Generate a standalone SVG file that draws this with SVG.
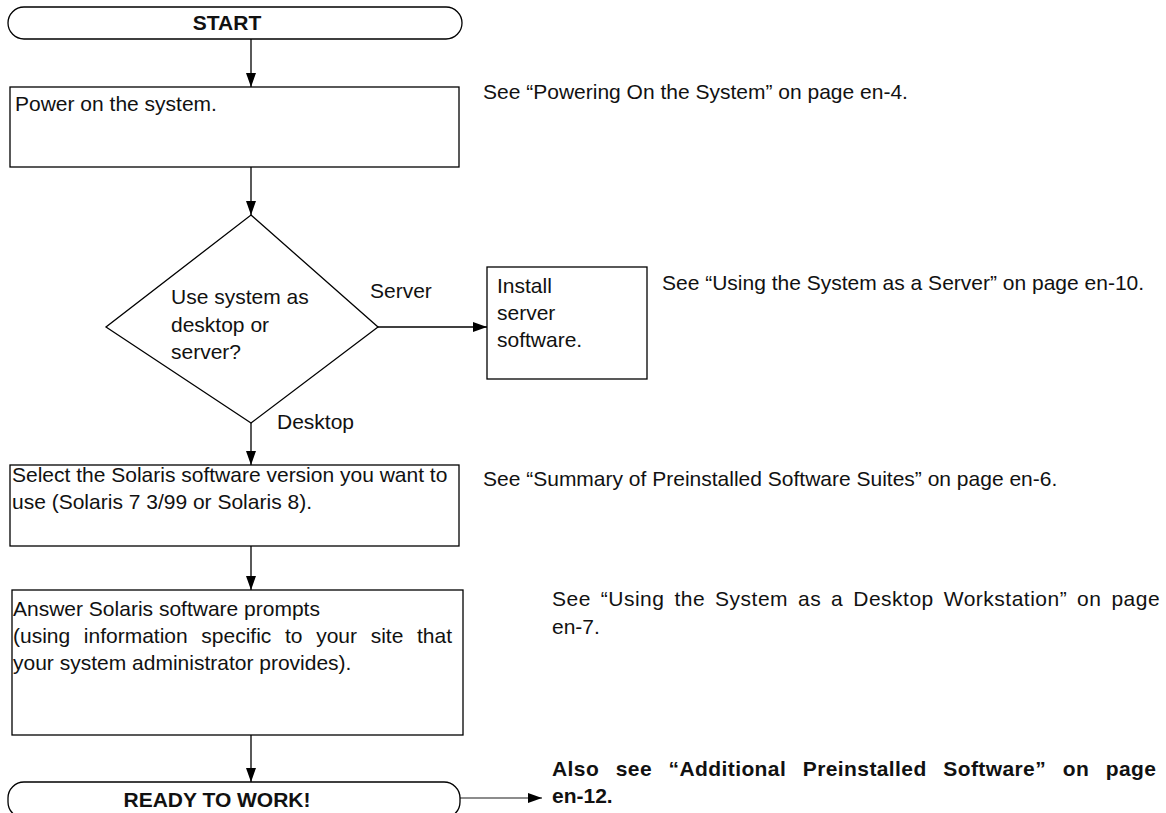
<svg xmlns="http://www.w3.org/2000/svg" width="1166" height="813" viewBox="0 0 1166 813">
<defs>
<marker id="ah" markerUnits="userSpaceOnUse" markerWidth="14" markerHeight="10" refX="14" refY="5" orient="auto">
<path d="M0,0 L14,5 L0,10 z" fill="#000"/>
</marker>
<style>
.shape{fill:#fff;stroke:#000;stroke-width:1.3}
.t{font-family:"Liberation Sans",Arial,sans-serif;font-size:21px;fill:#111}
.b{font-weight:bold}
.c{fill:none;stroke:#000;stroke-width:1.3}
.g{stroke:#666}
</style>
</defs>
<rect width="1166" height="813" fill="#fff"/>
<g id="connectors">
<line class="c" x1="251" y1="39" x2="251" y2="87" marker-end="url(#ah)"/>
<line class="c" x1="251" y1="167" x2="251" y2="215" marker-end="url(#ah)"/>
<line class="c" x1="378" y1="327" x2="487" y2="327" marker-end="url(#ah)"/>
<line class="c" x1="251" y1="423" x2="251" y2="465" marker-end="url(#ah)"/>
<line class="c" x1="251" y1="546" x2="251" y2="590" marker-end="url(#ah)"/>
<line class="c" x1="251" y1="735" x2="251" y2="782" marker-end="url(#ah)"/>
<line class="c g" x1="460" y1="798" x2="542" y2="798" marker-end="url(#ah)"/>
<text class="t" x="370" y="298">Server</text>
<text class="t" x="277" y="429">Desktop</text>
</g>
<g id="start">
<rect class="shape" x="8" y="7" width="454" height="32" rx="16"/>
<text class="t b" x="227" y="30" text-anchor="middle">START</text>
</g>
<g id="power">
<rect class="shape" x="10" y="87" width="449" height="80"/>
<text class="t" x="15" y="111">Power on the system.</text>
</g>
<g id="decision">
<polygon class="shape" points="251,215 378,327 251,423 106,327"/>
<text class="t" x="171" y="304">Use system as</text>
<text class="t" x="171" y="332">desktop or</text>
<text class="t" x="171" y="359">server?</text>
</g>
<g id="server">
<rect class="shape" x="487" y="267" width="160" height="112"/>
<text class="t" x="497" y="293">Install</text>
<text class="t" x="497" y="320">server</text>
<text class="t" x="497" y="347">software.</text>
</g>
<g id="select">
<rect class="shape" x="10" y="465" width="449" height="81"/>
<text class="t" x="12" y="482">Select the Solaris software version you want to</text>
<text class="t" x="12" y="509">use (Solaris 7 3/99 or Solaris 8).</text>
</g>
<g id="answer">
<rect class="shape" x="12" y="590" width="451" height="145"/>
<text class="t" x="13" y="616">Answer Solaris software prompts</text>
<text class="t" x="13" y="643" word-spacing="7.8">(using information specific to your site that</text>
<text class="t" x="13" y="670">your system administrator provides).</text>
</g>
<g id="ready">
<rect class="shape" x="8" y="782" width="452" height="36" rx="16"/>
<text class="t b" x="217" y="807" text-anchor="middle">READY TO WORK!</text>
</g>
<g id="note-power">
<text class="t" x="483" y="99">See “Powering On the System” on page en-4.</text>
</g>
<g id="note-server">
<text class="t" x="662" y="290">See “Using the System as a Server” on page en-10.</text>
</g>
<g id="note-suites">
<text class="t" x="483" y="486">See “Summary of Preinstalled Software Suites” on page en-6.</text>
</g>
<g id="note-desktop">
<text class="t" x="552" y="606" letter-spacing="0.5" word-spacing="3.6">See “Using the System as a Desktop Workstation” on page</text>
<text class="t" x="552" y="634">en-7.</text>
</g>
<g id="note-additional">
<text class="t b" x="552" y="776" letter-spacing="0.4" word-spacing="10.4">Also see “Additional Preinstalled Software” on page</text>
<text class="t b" x="552" y="803">en-12.</text>
</g>
</svg>
